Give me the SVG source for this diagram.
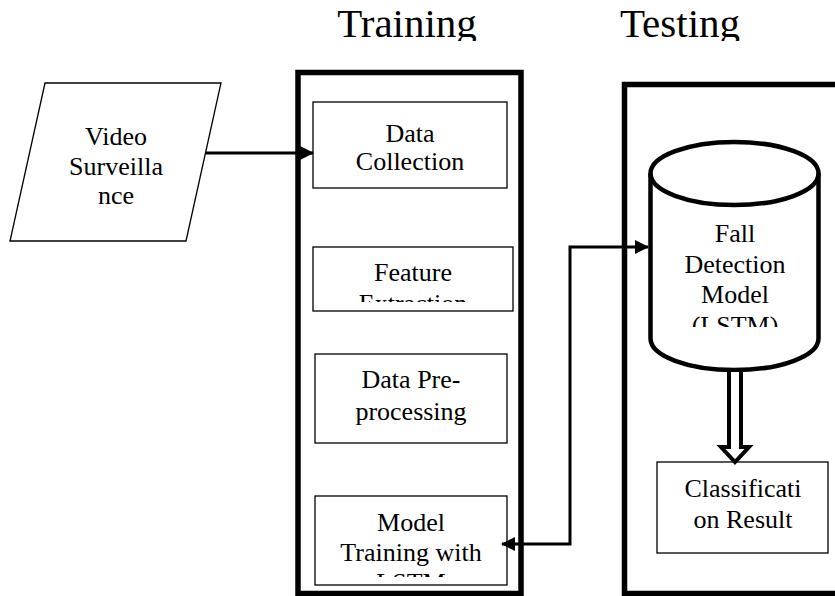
<svg xmlns="http://www.w3.org/2000/svg" width="835" height="596" viewBox="0 0 835 596">
  <style>
    text { font-family: "Liberation Serif", "Times New Roman", serif; fill: #000; text-anchor: middle; }
    .title { font-size: 41px; }
    .lbl { font-size: 26px; }
    .box { fill: #fff; stroke: #000; stroke-width: 1.3; }
    .frame { fill: none; stroke: #000; stroke-width: 5.5; }
    .wire { fill: none; stroke: #000; stroke-width: 3; }
  </style>
  <defs>
    <marker id="head" viewBox="0 0 14 14" refX="13" refY="7" markerWidth="14" markerHeight="14" markerUnits="userSpaceOnUse" orient="auto-start-reverse">
      <path d="M0,0 L14,7 L0,14 Z" fill="#000"/>
    </marker>
    <clipPath id="clipTitles"><rect x="0" y="0" width="835" height="41"/></clipPath>
    <clipPath id="clipFeature"><rect x="313" y="247" width="200" height="55"/></clipPath>
    <clipPath id="clipModel"><rect x="315" y="496" width="192" height="81"/></clipPath>
    <clipPath id="clipFall"><rect x="650" y="205" width="170" height="122"/></clipPath>
  </defs>

  <!-- section headings -->
  <g id="titles" clip-path="url(#clipTitles)">
    <text class="title" x="407" y="37">Training</text>
    <text class="title" x="680" y="37">Testing</text>
  </g>

  <!-- section frames -->
  <g id="training-frame">
    <rect class="frame" x="298" y="72.5" width="223" height="521"/>
  </g>
  <g id="testing-frame">
    <rect class="frame" x="624.5" y="84.5" width="300" height="509"/>
  </g>

  <!-- input -->
  <g id="video-surveillance">
    <polygon class="box" points="45,83 221,83 186,241 10,241"/>
    <text class="lbl" x="116" y="145">Video</text>
    <text class="lbl" x="116" y="175">Surveilla</text>
    <text class="lbl" x="116" y="204">nce</text>
  </g>

  <!-- training steps -->
  <g id="data-collection">
    <rect class="box" x="313" y="102" width="194" height="86"/>
    <text class="lbl" x="410" y="142">Data</text>
    <text class="lbl" x="410" y="170">Collection</text>
  </g>
  <g id="feature-extraction">
    <rect class="box" x="313" y="247" width="200" height="64"/>
    <g clip-path="url(#clipFeature)">
      <text class="lbl" x="413" y="281">Feature</text>
      <text class="lbl" x="413" y="312">Extraction</text>
    </g>
  </g>
  <g id="data-preprocessing">
    <rect class="box" x="315" y="354" width="192" height="89"/>
    <text class="lbl" x="411" y="388">Data Pre-</text>
    <text class="lbl" x="411" y="420">processing</text>
  </g>
  <g id="model-training">
    <rect class="box" x="315" y="496" width="192" height="89"/>
    <g clip-path="url(#clipModel)">
      <text class="lbl" x="411" y="531">Model</text>
      <text class="lbl" x="411" y="561">Training with</text>
      <text class="lbl" x="411" y="591">LSTM</text>
    </g>
  </g>

  <!-- testing steps -->
  <g id="fall-detection-model">
    <path d="M650.5,173.5 A84,31.5 0 0 1 818.5,173.5 V338.5 A84,31.5 0 0 1 650.5,338.5 Z" fill="#fff" stroke="#000" stroke-width="4.5"/>
    <path d="M650.5,173.5 A84,31.5 0 0 0 818.5,173.5" fill="none" stroke="#000" stroke-width="4.5"/>
    <g clip-path="url(#clipFall)">
      <text class="lbl" x="735" y="242">Fall</text>
      <text class="lbl" x="735" y="273">Detection</text>
      <text class="lbl" x="735" y="303">Model</text>
      <text class="lbl" x="735" y="334">(LSTM)</text>
    </g>
  </g>
  <g id="classification-result">
    <rect class="box" x="657" y="462" width="171" height="91"/>
    <text class="lbl" x="743" y="497">Classificati</text>
    <text class="lbl" x="743" y="528">on Result</text>
  </g>

  <!-- connectors -->
  <g id="connectors">
    <line class="wire" x1="206" y1="153" x2="313" y2="153" marker-end="url(#head)"/>
    <path class="wire" d="M502,544 H570 V247 H648" marker-start="url(#head)" marker-end="url(#head)"/>
    <polygon points="729,370 729,447 721,447 735,462 749,447 741,447 741,370" fill="#fff" stroke="#000" stroke-width="4"/>
  </g>
</svg>
